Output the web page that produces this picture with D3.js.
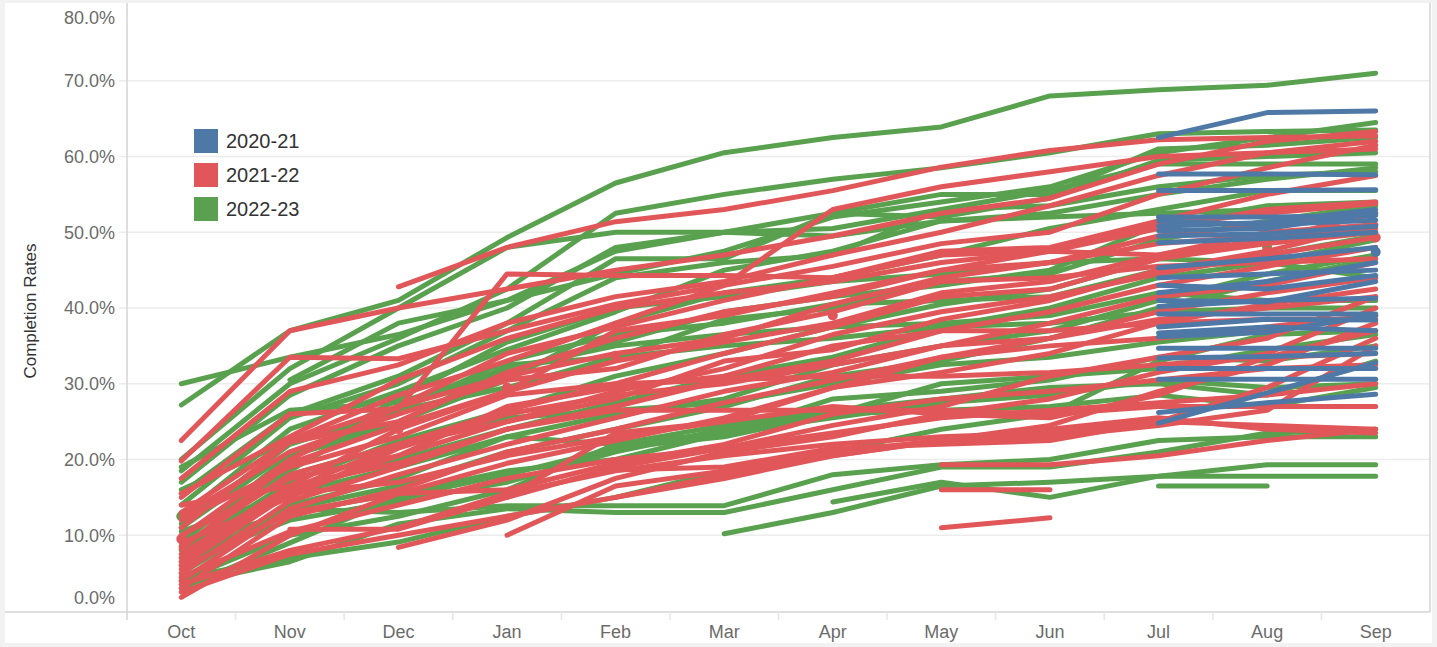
<!DOCTYPE html>
<html>
<head>
<meta charset="utf-8">
<script src="https://cdn.jsdelivr.net/npm/d3@7"></script>
<style>
  html, body { margin: 0; padding: 0; background: #f2f2f2; }
  svg { display: block; }
</style>
</head>
<body>
<svg id="chart"></svg>
<script>
const W = 1437
const H = 647
const _ = null

const months = ['Oct', 'Nov', 'Dec', 'Jan', 'Feb', 'Mar', 'Apr', 'May', 'Jun', 'Jul', 'Aug', 'Sep']
const yTicks = [0, 10, 20, 30, 40, 50, 60, 70, 80]
const seasons = ['2020-21', '2021-22', '2022-23']
const seasonColors = ['#4e79a7', '#e15759', '#59a14f']

// 2020-21 : only Jul..Sep reported
const series2021 = [
  [_, _, _, _, _, _, _, _, _, 62.5, 65.8, 66.0],
  [_, _, _, _, _, _, _, _, _, 57.7, 57.7, 57.6],
  [_, _, _, _, _, _, _, _, _, 55.5, 55.5, 55.6],
  [_, _, _, _, _, _, _, _, _, 52.0, 52.0, 52.2],
  [_, _, _, _, _, _, _, _, _, 51.5, 51.0, 51.6],
  [_, _, _, _, _, _, _, _, _, 50.8, 51.3, 53.0],
  [_, _, _, _, _, _, _, _, _, 50.2, 50.5, 52.5],
  [_, _, _, _, _, _, _, _, _, 49.5, 49.8, 50.8],
  [_, _, _, _, _, _, _, _, _, 48.6, 49.2, 50.0],
  [_, _, _, _, _, _, _, _, _, 45.3, 46.5, 48.0],
  [_, _, _, _, _, _, _, _, _, 44.0, 44.5, 45.0],
  [_, _, _, _, _, _, _, _, _, 43.0, 42.5, 44.3],
  [_, _, _, _, _, _, _, _, _, 42.0, 43.5, 46.0],
  [_, _, _, _, _, _, _, _, _, 41.0, 40.8, 43.5],
  [_, _, _, _, _, _, _, _, _, 40.2, 41.0, 41.3],
  [_, _, _, _, _, _, _, _, _, 39.2, 39.2, 39.2],
  [_, _, _, _, _, _, _, _, _, 37.5, 38.5, 38.4],
  [_, _, _, _, _, _, _, _, _, 36.7, 37.5, 37.0],
  [_, _, _, _, _, _, _, _, _, 36.2, 36.8, 39.0],
  [_, _, _, _, _, _, _, _, _, 34.7, 34.7, 34.7],
  [_, _, _, _, _, _, _, _, _, 33.4, 33.6, 34.0],
  [_, _, _, _, _, _, _, _, _, 32.0, 32.0, 32.0],
  [_, _, _, _, _, _, _, _, _, 30.6, 30.6, 30.6],
  [_, _, _, _, _, _, _, _, _, 26.2, 27.5, 28.6],
  [_, _, _, _, _, _, _, _, _, 24.8, 28.8, 32.8],
  [_, _, _, _, _, _, _, _, _, _, _, 47.4]
]

const series2122 = [
  [22.5, 37.0, 40.0, 42.5, 45.0, 47.0, 49.5, 52.5, 54.5, 59.0, 62.0, 63.3],
  [_, _, 42.8, 48.0, 51.4, 53.0, 55.5, 58.6, 60.8, 62.2, 62.5, 62.7],
  [19.8, 33.5, 33.3, 37.0, 40.5, 43.0, 45.5, 48.5, 50.0, 55.0, 58.5, 61.5],
  [17.5, 29.0, 32.5, 38.0, 41.5, 43.5, 47.0, 50.0, 53.5, 57.5, 60.5, 62.0],
  [15.0, 26.0, 26.7, 44.5, 44.3, 44.3, 44.0, 47.5, 48.0, 51.5, 55.0, 57.5],
  [13.0, 22.5, 28.5, 33.0, 38.0, 43.0, 53.0, 56.0, 58.0, 60.0, 60.5, 61.0],
  [11.0, 22.3, 25.0, 31.5, 36.0, 39.5, 41.5, 45.0, 47.5, 51.0, 52.5, 53.8],
  [9.8, 20.0, 27.0, 31.0, 34.0, 36.0, 40.5, 44.0, 46.0, 49.5, 51.0, 52.5],
  [8.2, 19.5, 24.5, 29.0, 33.0, 35.5, 38.0, 42.0, 43.5, 47.0, 50.0, 51.0],
  [7.0, 16.0, 22.0, 26.5, 30.0, 34.0, 37.5, 41.5, 42.5, 46.5, 48.5, 50.0],
  [6.0, 15.5, 20.5, 25.0, 29.0, 32.0, 36.5, 39.5, 41.5, 44.5, 47.0, 49.3],
  [5.0, 14.5, 19.0, 24.0, 27.0, 30.5, 33.0, 37.0, 39.5, 43.0, 45.5, 48.0],
  [4.0, 13.5, 18.0, 22.0, 25.5, 29.0, 31.5, 35.0, 38.0, 41.5, 43.0, 46.0],
  [3.0, 12.5, 16.0, 21.0, 24.0, 27.5, 30.5, 33.5, 36.0, 39.5, 42.0, 44.0],
  [1.8, 10.0, 15.5, 19.5, 22.5, 25.5, 29.5, 31.5, 34.0, 38.0, 40.5, 42.5],
  [_, 10.8, 10.8, 15.0, 19.0, 21.5, 24.5, 27.0, 31.0, 33.5, 36.0, 41.5],
  [_, _, 8.4, 12.0, 17.5, 21.0, 23.0, 26.0, 28.0, 31.5, 34.0, 40.0],
  [_, _, _, 10.0, 16.5, 18.5, 21.0, 22.5, 24.5, 29.0, 32.5, 38.0],
  [_, _, _, 15.0, 23.5, 25.0, 27.0, 26.0, 25.5, 28.5, 33.5, 37.0],
  [_, _, _, _, 18.6, 19.0, 21.5, 22.0, 22.5, 25.0, 29.5, 36.0],
  [_, _, _, _, 15.0, 18.0, 20.5, 22.5, 23.0, 24.5, 26.5, 35.0],
  [_, _, _, _, _, _, _, 11.0, 12.3, _, _, _],
  [_, _, _, _, _, _, _, 16.0, 16.0, _, _, _],
  [_, _, _, _, _, _, _, 19.3, 19.3, 20.5, 22.5, 24.0],
  [14.0, 16.5, 19.5, 24.0, 26.5, 26.5, 26.5, 26.5, 26.0, 27.0, 27.0, 27.0],
  [12.0, 19.0, 23.0, 28.5, 30.0, 30.5, 31.0, 31.0, 31.5, 32.5, 33.5, 34.0],
  [10.0, 17.5, 20.5, 27.0, 29.5, 31.0, 35.0, 37.0, 37.0, 38.0, 38.5, 38.5],
  [9.0, 15.0, 21.5, 26.0, 28.5, 30.0, 32.5, 35.0, 36.0, 38.5, 40.0, 41.5],
  [6.5, 15.5, 17.0, 20.5, 23.0, 25.0, 29.5, 33.5, 35.0, 36.0, 37.5, 39.0],
  [5.5, 13.0, 15.5, 16.0, 19.5, 22.0, 26.0, 28.0, 29.0, 30.5, 32.0, 32.5],
  [4.5, 10.5, 14.0, 17.5, 20.0, 21.5, 23.5, 25.5, 26.5, 27.5, 28.5, 30.0],
  [3.5, 8.0, 11.0, 15.5, 18.5, 20.5, 22.0, 23.0, 23.5, 25.0, 24.5, 24.0],
  [2.5, 7.5, 10.0, 12.5, 15.0, 17.5, 20.5, 22.5, 24.0, 25.5, 24.0, 23.5],
  [_, 22.3, 27.0, 34.0, 37.5, 41.0, 44.0, 47.0, 47.5, 47.0, 49.0, 52.5],
  [15.5, 23.0, 30.5, 36.0, 40.0, 42.0, 43.5, 46.0, 47.5, 50.5, 53.0, 54.0],
  [8.5, 18.0, 22.0, 25.0, 28.0, 33.0, 34.5, 38.5, 41.0, 45.0, 47.5, 51.0],
  [12.5, 21.0, 26.0, 30.5, 32.0, 36.5, 39.5, 43.5, 44.0, 45.5, 46.0, 46.5],
  [7.5, 16.5, 24.0, 29.0, 37.0, 39.0, 42.0, 45.0, 46.0, 48.5, 49.5, 50.5],
  [9.5, _, _, _, _, _, _, _, _, _, _, _],
  [_, _, 24.0, _, _, _, _, _, _, _, _, _],
  [_, _, _, 29.5, _, _, _, _, _, _, _, _],
  [_, _, _, _, 33.7, _, _, _, _, _, _, _],
  [_, _, _, _, _, _, 39.0, _, _, _, _, _],
  [_, _, _, _, _, _, _, _, _, _, 47.5, _],
  [_, _, _, _, _, _, _, _, _, _, _, 49.3]
]

const series2223 = [
  [27.2, 37.0, 41.0, 49.3, 56.5, 60.5, 62.5, 63.9, 68.0, 68.8, 69.4, 71.0],
  [30.0, 33.5, 36.5, 41.0, 44.5, 47.5, 52.0, 54.0, 56.0, 60.5, 62.5, 64.5],
  [18.5, 30.0, 36.0, 42.5, 52.5, 55.0, 57.0, 58.5, 60.5, 63.0, 63.3, 63.5],
  [17.0, 28.5, 35.0, 40.0, 48.0, 50.0, 52.5, 55.0, 55.0, 61.0, 61.5, 62.5],
  [15.5, 26.0, 31.0, 38.0, 46.5, 46.5, 52.5, 52.0, 54.5, 59.5, 60.0, 60.5],
  [14.0, 25.5, 30.0, 37.0, 44.0, 46.0, 47.0, 53.0, 55.5, 59.0, 59.0, 59.0],
  [12.5, 24.0, 29.0, 34.5, 39.5, 45.0, 47.5, 51.5, 52.5, 55.0, 57.0, 58.5],
  [11.0, 21.0, 25.0, 30.5, 38.0, 42.0, 44.0, 47.0, 50.5, 53.0, 55.5, 55.5],
  [10.0, 18.5, 27.0, 31.5, 35.5, 39.5, 41.5, 43.0, 45.0, 51.0, 53.5, 54.0],
  [9.0, 20.5, 24.5, 32.5, 33.5, 38.5, 40.0, 43.5, 44.5, 49.0, 51.5, 53.5],
  [8.0, 17.0, 22.5, 26.5, 31.0, 34.0, 37.5, 40.5, 42.5, 46.5, 49.0, 51.0],
  [7.0, 16.0, 20.0, 24.0, 27.5, 31.0, 33.5, 37.5, 40.0, 44.0, 46.0, 49.0],
  [6.0, 14.0, 17.5, 23.0, 26.0, 28.0, 32.5, 35.0, 37.0, 41.0, 44.5, 47.0],
  [5.0, 13.5, 16.5, 21.0, 24.0, 27.0, 31.0, 33.0, 36.0, 40.0, 43.5, 46.5],
  [4.4, 7.0, 9.1, 12.5, 15.0, 18.5, 21.0, 24.0, 26.0, 33.0, 36.5, 37.0],
  [3.5, 6.5, 11.5, 13.5, 13.0, 13.0, 16.0, 19.0, 19.0, 21.0, 23.5, 24.0],
  [_, 13.5, 13.0, 13.9, 13.9, 13.9, 18.0, 19.3, 20.0, 22.5, 23.0, 23.0],
  [_, _, _, _, _, 10.2, 13.0, 16.5, 17.0, 17.8, 19.3, 19.3],
  [_, _, _, _, _, _, 14.4, 17.0, 15.0, 17.8, 17.8, 17.8],
  [_, _, _, _, _, _, _, _, _, 16.5, 16.5, _],
  [19.0, 26.5, 27.5, 32.0, 35.0, 36.5, 37.5, 38.0, 39.0, 42.0, 41.0, 41.0],
  [16.0, 22.5, 26.5, 29.5, 33.5, 35.0, 36.0, 37.5, 38.0, 39.5, 40.0, 40.0],
  [13.0, 18.0, 22.0, 25.5, 26.5, 27.5, 30.0, 32.5, 33.5, 35.5, 37.0, 39.0],
  [10.5, 15.5, 19.0, 23.0, 22.0, 23.5, 28.0, 29.0, 30.5, 33.5, 33.0, 35.0],
  [8.5, 13.0, 15.5, 18.5, 20.0, 23.5, 25.5, 27.5, 28.5, 30.5, 29.5, 30.0],
  [6.5, 12.0, 14.5, 17.0, 21.0, 24.0, 26.0, 26.5, 27.0, 28.5, 27.0, 29.5],
  [_, 30.5, 38.0, 41.0, 47.5, 50.0, 50.5, 53.0, 53.5, 56.0, 57.5, 58.0],
  [20.0, 32.0, 40.0, 48.0, 50.0, 50.0, 49.5, 51.5, 52.0, 52.5, 53.0, 53.5],
  [9.5, 20.0, 28.0, 35.5, 40.0, 41.5, 43.5, 44.5, 46.0, 46.5, 46.0, 44.0],
  [4.0, 10.0, 12.5, 16.0, 22.0, 24.5, 26.5, 28.0, 29.5, 30.0, 28.5, 33.0],
  [3.0, 9.0, 15.0, 18.0, 21.5, 23.0, 26.0, 30.0, 31.0, 32.0, 34.5, 36.5],
  [11.5, 22.0, 26.5, 33.0, 36.5, 38.0, 40.5, 41.0, 41.5, 45.0, 47.0, 49.5],
  [12.5, _, _, _, _, _, _, _, _, _, _, _],
  [_, _, 24.3, _, _, _, _, _, _, _, _, _],
  [_, _, _, _, _, _, _, _, _, _, 48.0, _]
]

const plot = { left: 127, right: 1430, top: 5, bottom: 611 }
const font = "'Liberation Sans', Arial, sans-serif"

const svg = d3.select('#chart').attr('width', W).attr('height', H)

// white card
svg.append('rect')
  .attr('x', 5).attr('y', 3)
  .attr('width', 1427).attr('height', 640)
  .attr('fill', '#fff')

const x = d3.scaleBand()
  .domain(months)
  .range([plot.left, plot.right])
const xc = m => x(m) + x.bandwidth() / 2

const y = d3.scaleLinear()
  .domain([0, 80])
  .range([plot.bottom, plot.top])

// gridlines
svg.append('g')
  .selectAll('line')
  .data(yTicks.filter(t => t > 0 && t < 80))
  .join('line')
  .attr('x1', plot.left - 8).attr('x2', plot.right)
  .attr('y1', d => y(d)).attr('y2', d => y(d))
  .attr('stroke', '#ececec')
  .attr('stroke-width', 1.5)

// y axis labels (end ones kept inside)
svg.append('g')
  .selectAll('text')
  .data(yTicks)
  .join('text')
  .attr('x', 115)
  .attr('y', d => d === 0 ? 598 : d === 80 ? 18 : y(d))
  .attr('dy', '0.35em')
  .attr('text-anchor', 'end')
  .attr('font-family', font)
  .attr('font-size', 18)
  .attr('fill', '#6b6b6b')
  .text(d => d3.format('.1f')(d) + '%')

svg.append('text')
  .attr('transform', 'translate(36, 311) rotate(-90)')
  .attr('text-anchor', 'middle')
  .attr('font-family', font)
  .attr('font-size', 17)
  .attr('fill', '#333')
  .text('Completion Rates')

// frame
svg.append('line')
  .attr('x1', plot.left).attr('x2', plot.left)
  .attr('y1', 3).attr('y2', 620)
  .attr('stroke', '#d4d4d4').attr('stroke-width', 1.5)
svg.append('line')
  .attr('x1', plot.right).attr('x2', plot.right)
  .attr('y1', 3).attr('y2', plot.bottom + 1)
  .attr('stroke', '#d4d4d4').attr('stroke-width', 1.5)
svg.append('line')
  .attr('x1', 5).attr('x2', plot.right)
  .attr('y1', plot.bottom + 1).attr('y2', plot.bottom + 1)
  .attr('stroke', '#d4d4d4').attr('stroke-width', 1.5)

// month separators
svg.append('g')
  .selectAll('line')
  .data(months.slice(1))
  .join('line')
  .attr('x1', d => x(d)).attr('x2', d => x(d))
  .attr('y1', plot.bottom + 1).attr('y2', 620)
  .attr('stroke', '#e6e6e6').attr('stroke-width', 1.5)

svg.append('g')
  .selectAll('text')
  .data(months)
  .join('text')
  .attr('x', d => xc(d))
  .attr('y', 632)
  .attr('dy', '0.35em')
  .attr('text-anchor', 'middle')
  .attr('font-family', font)
  .attr('font-size', 18)
  .attr('fill', '#6b6b6b')
  .text(d => d)

// lines
const line = d3.line()
  .x(d => xc(d.month))
  .y(d => y(d.value))

function segments (values) {
  const segs = []
  let cur = []
  values.forEach((v, i) => {
    if (v === null) {
      if (cur.length) segs.push(cur)
      cur = []
    } else {
      cur.push({ month: months[i], value: v })
    }
  })
  if (cur.length) segs.push(cur)
  return segs
}

function drawSeason (list, color) {
  const g = svg.append('g')
  list.forEach(values => {
    segments(values).forEach(seg => {
      if (seg.length === 1) {
        g.append('circle')
          .attr('cx', xc(seg[0].month))
          .attr('cy', y(seg[0].value))
          .attr('r', 5)
          .attr('fill', color)
      } else {
        g.append('path')
          .attr('d', line(seg))
          .attr('fill', 'none')
          .attr('stroke', color)
          .attr('stroke-width', 5)
          .attr('stroke-linecap', 'round')
          .attr('stroke-linejoin', 'round')
      }
    })
  })
}

drawSeason(series2223, seasonColors[2])
drawSeason(series2122, seasonColors[1])
drawSeason(series2021, seasonColors[0])

// legend
const legend = svg.append('g')
  .attr('transform', 'translate(194, 129)')
legend.selectAll('g')
  .data(seasons)
  .join('g')
  .attr('transform', (d, i) => `translate(0, ${i * 34})`)
  .each(function (d, i) {
    const item = d3.select(this)
    item.append('rect')
      .attr('width', 24).attr('height', 24)
      .attr('fill', seasonColors[i])
    item.append('text')
      .attr('x', 32).attr('y', 12)
      .attr('dy', '0.35em')
      .attr('font-family', font)
      .attr('font-size', 20)
      .attr('fill', '#333')
      .text(d)
  })
</script>
</body>
</html>
